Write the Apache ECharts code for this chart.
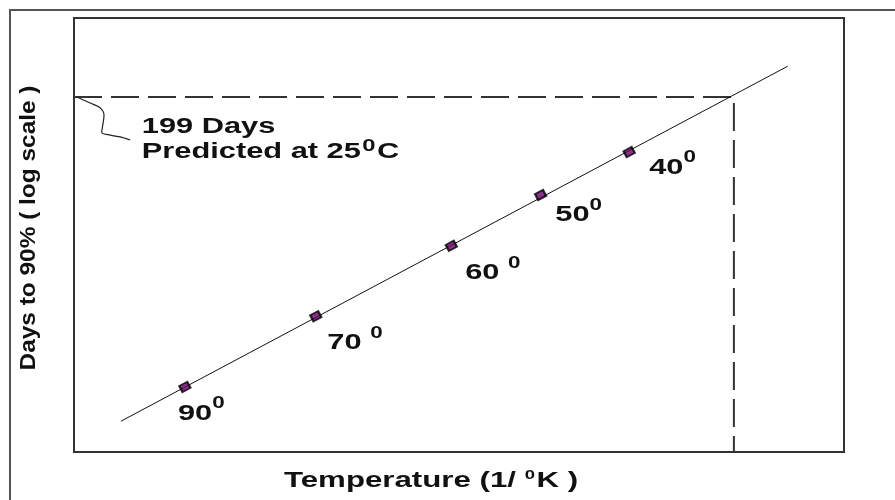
<!DOCTYPE html>
<html><head><meta charset="utf-8">
<script src="https://cdn.jsdelivr.net/npm/echarts@6/dist/echarts.min.js"></script>
<style>html,body{margin:0;padding:0;background:#fff}#c{width:895px;height:500px}</style>
</head><body><div id="c"></div>
<script>
// Values, in plot units (x: 0-100 across, y: 0-100 up; y is log days)
const tempLabels = ['90', '70 ', '60 ', '50', '40'];
const pointX = [14.4, 31.4, 49.0, 60.6, 72.1];
const pointY = [15.0, 31.3, 47.5, 59.2, 69.1];
const labelX = [13.5, 32.9, 50.8, 62.5, 74.7];
const labelY = [7.1, 23.3, 39.4, 52.8, 63.8];
const fitX = [6.1, 92.7];
const fitY = [7.1, 88.9];
const predX = 85.7;
const predY = 81.8;
const predText = ['199 Days', 'Predicted at 25'];
const connectorX = [0.4, 2.1, 3.4, 3.9, 3.8, 3.6, 4.7, 6.0, 7.3];
const connectorY = [81.8, 80.4, 79.3, 77.6, 76.0, 73.7, 73.0, 72.6, 71.9];
const noteX = 8.8;
const noteY = 67.5;
const xTitle = 'Temperature (1/ ';
const yTitle = 'Days to 90% ( log scale )';

const FONT = '"Liberation Sans", Arial, sans-serif';
const chart = echarts.init(document.getElementById('c'));
const zip = (a, b) => a.map((v, i) => [v, b[i]]);

chart.setOption({
  animation: false,
  grid: { left: 74, top: 18, right: 51, bottom: 48, show: true, borderColor: '#333', borderWidth: 2, backgroundColor: 'transparent' },
  xAxis: { type: 'value', min: 0, max: 100, show: false },
  yAxis: { type: 'value', min: 0, max: 100, show: false },
  series: [
    { type: 'line', data: [[0, predY], [predX, predY], [predX, 0]], symbol: 'none',
      lineStyle: { color: '#333', width: 2, type: [28, 9] }, z: 2 },
    { type: 'line', data: zip(fitX, fitY), symbol: 'none',
      lineStyle: { color: '#111', width: 1 }, z: 3 },
    { type: 'line', data: zip(connectorX, connectorY), symbol: 'none', smooth: 0.3,
      lineStyle: { color: '#222', width: 1.2 }, z: 3 },
    { type: 'scatter', data: zip(pointX, pointY), symbol: 'rect', symbolSize: [9, 7], symbolRotate: 28,
      itemStyle: { color: '#6a006a', borderColor: '#000', borderWidth: 2 }, z: 4 }
  ]
});

const px = (x, y) => chart.convertToPixel({ gridIndex: 0 }, [x, y]);
const num = { fontSize: 22, fontWeight: 'bold', fontFamily: FONT, fill: '#111', lineHeight: 22, verticalAlign: 'bottom' };
const deg = { fontSize: 16, fontWeight: 'bold', fontFamily: FONT, fill: '#111', lineHeight: 29, verticalAlign: 'top', padding: [0, 0, 13, 0] };

const graphics = [
  { type: 'rect', shape: { x: 10, y: 10, width: 1000, height: 1000 }, style: { fill: 'none', stroke: '#555', lineWidth: 2 }, silent: true }
];

tempLabels.forEach((t, i) => {
  const p = px(labelX[i], labelY[i]);
  graphics.push({
    type: 'text', x: p[0], y: p[1] + 3.4, scaleX: 1.4, z: 10,
    style: { text: '{n|' + t + '}{d|0}', align: 'left', verticalAlign: 'bottom',
      rich: { n: num, d: deg } }
  });
});

const np = px(noteX, noteY);
graphics.push({
  type: 'text', x: np[0], y: np[1] + 3.4, scaleX: 1.4, z: 10,
  style: { text: '{n|' + predText[0] + '}\n{n|' + predText[1] + '}{d2|0}{n|C}', align: 'left', verticalAlign: 'bottom',
    rich: { n: num, d2: Object.assign({}, deg, { fontSize: 17, lineHeight: 25, padding: [0, 1, 8, 1] }) } }
});

graphics.push({
  type: 'text', x: 431, y: 489 + 3.4, scaleX: 1.42, z: 10,
  style: { text: '{n|' + xTitle + '}{d|0}{n|K )}', align: 'center', verticalAlign: 'bottom',
    rich: { n: num, d: Object.assign({}, deg, { fontSize: 13, lineHeight: 23, padding: [0, 1, 10, 0] }) } }
});

graphics.push({
  type: 'text', x: 29, y: 228, rotation: Math.PI / 2, scaleX: 1.11, z: 10,
  style: { text: yTitle, align: 'center', verticalAlign: 'middle', fontSize: 22, fontWeight: 'bold', fontFamily: FONT, fill: '#111' }
});

chart.setOption({ graphic: graphics });
</script></body></html>
